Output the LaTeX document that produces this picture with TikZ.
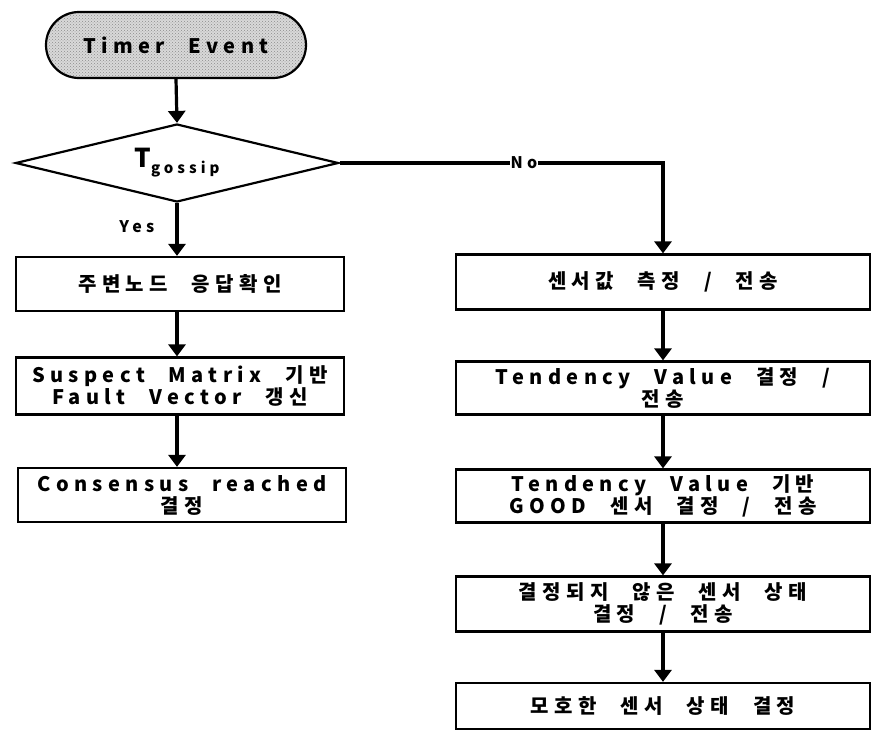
\documentclass[tikz,border=0pt]{standalone}
\usepackage{fontspec}
\setmainfont{Noto Sans CJK KR}[LetterSpace=27, WordSpace=2.4]
\usetikzlibrary{arrows.meta,shapes.geometric,shapes.misc,patterns}
\tikzset{
  boxnode/.style={draw=black, line width=2.2pt, rectangle, align=center, inner sep=2pt,
    font=\bfseries\fontsize{20}{22}\selectfont},
  conn/.style={line width=3.2pt, -{Triangle[width=17pt,length=12pt]}},
  lbl/.style={font=\bfseries\fontsize{16}{17}\selectfont, inner sep=1pt}
}
\begin{document}
\begin{tikzpicture}[x=1pt,y=-1pt]
\useasboundingbox (0,0) rectangle (871,731);
% start
\node[rounded rectangle, draw=black, line width=2.2pt, preaction={fill=gray!30},
  pattern=crosshatch dots, pattern color=gray!90, minimum width=260pt, minimum height=66pt,
  inner sep=0pt, font=\bfseries\fontsize{20}{22}\selectfont] (timer) at (176,45) {Timer Event};
% decision
\node[diamond, draw=black, line width=2.2pt, aspect=4.14, minimum width=323pt, minimum height=78pt,
  inner sep=0pt] (dec) at (177,163) {\bfseries\fontsize{26}{28}\selectfont T\raisebox{-6pt}{\fontsize{15}{15}\selectfont gossip}};
% left column
\node[boxnode, minimum width=328pt, minimum height=54pt] (l1) at (180,284) {주변노드 응답확인};
\node[boxnode, minimum width=328pt, minimum height=57pt] (l2) at (180,386) {Suspect Matrix 기반\\Fault Vector 갱신};
\node[boxnode, minimum width=328pt, minimum height=54pt] (l3) at (182,495) {Consensus reached\\결정};
% right column
\node[boxnode, minimum width=414pt, minimum height=55pt] (r1) at (663,282) {센서값 측정 / 전송};
\node[boxnode, minimum width=414pt, minimum height=53pt] (r2) at (663,388) {Tendency Value 결정 /\\전송};
\node[boxnode, minimum width=414pt, minimum height=53pt] (r3) at (663,496) {Tendency Value 기반\\GOOD 센서 결정 / 전송};
\node[boxnode, minimum width=414pt, minimum height=55pt] (r4) at (663,604) {결정되지 않은 센서 상태\\결정 / 전송};
\node[boxnode, minimum width=414pt, minimum height=46pt] (r5) at (663,706) {모호한 센서 상태 결정};
% connectors
\coordinate (turn) at (663,163);
\draw[conn] (timer.south) -- (dec.north);
\draw[conn] (dec.south) -- node[lbl, pos=0.45, left=20pt] {Yes} (dec.south |- l1.north);
\draw[conn] (dec.east) -- (turn) -- (r1.north);
\node[lbl, fill=white] (nolbl) at (524,163) {No};
\draw[conn] (l1.south -| dec.south) -- (l2.north -| dec.south);
\draw[conn] (l2.south -| dec.south) -- (l3.north -| dec.south);
\draw[conn] (r1.south) -- (r2.north);
\draw[conn] (r2.south) -- (r3.north);
\draw[conn] (r3.south) -- (r4.north);
\draw[conn] (r4.south) -- (r5.north);
\end{tikzpicture}
\end{document}
